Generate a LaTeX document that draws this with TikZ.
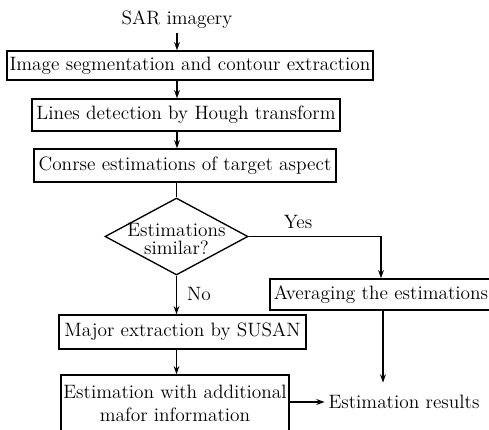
\documentclass[tikz,border=0pt]{standalone}
\usetikzlibrary{shapes.geometric,arrows.meta}
\begin{document}
\begin{tikzpicture}[x=0.6pt,y=-0.6pt,
  box/.style={draw,line width=0.8pt,inner sep=0pt,align=center,font=\fontsize{11.6}{13.4}\selectfont},
  txt/.style={inner sep=0pt,align=center,font=\fontsize{11.6}{13.4}\selectfont},
  dec/.style={draw,diamond,line width=0.8pt,inner sep=0pt},
  conn/.style={line width=0.8pt},
  arr/.style={line width=0.8pt,-{Stealth[length=5pt,width=3.5pt]}}]
\useasboundingbox (0,0) rectangle (489,430);
\clip (0,0) rectangle (489,430);
\fill[white] (0,0) rectangle (489,430);
\node[txt,minimum height=26*0.6pt] (sar) at (177,20) {SAR imagery};
\node[box,minimum width=366*0.6pt,minimum height=29*0.6pt] (b1) at (190,65.5) {Image segmentation and contour extraction};
\node[box,minimum width=308*0.6pt,minimum height=32*0.6pt] (b2) at (186,115) {Lines detection by Hough transform};
\node[box,minimum width=302*0.6pt,minimum height=33*0.6pt] (b3) at (185,165.5) {Conrse estimations of target aspect};
\node[dec,minimum width=143*0.6pt,minimum height=77*0.6pt] (d) at (176.5,236.5) {};
\node[txt,font=\fontsize{11.6}{11}\selectfont] (dt) at (176.5,239) {Estimations\\similar?};
\node[box,minimum width=222*0.6pt,minimum height=31*0.6pt] (avg) at (381,294.5) {Averaging the estimations};
\node[box,minimum width=247*0.6pt,minimum height=34*0.6pt] (maj) at (182.5,332) {Major extraction by SUSAN};
\node[box,minimum width=228*0.6pt,minimum height=57*0.6pt] (est) at (175,403.5) {Estimation with additional\\mafor information};
\node[txt,minimum width=158*0.6pt,minimum height=38*0.6pt] (res) at (404,402) {Estimation results};
\node[txt] (yes) at (298,222) {Yes};
\node[txt] (no) at (199,294) {No};
\draw[arr] (sar.south) -- (sar.south |- b1.north);
\draw[arr] (b1.south -| sar) -- (b2.north -| sar);
\draw[arr] (b2.south -| sar) -- (b3.north -| sar);
\draw[conn] (b3.south -| d) -- (d.north);
\draw[arr] (d.east) -| (avg.north);
\draw[arr] (d.south) -- (maj.north -| d);
\draw[arr] (maj.south -| d) -- (est.north -| d);
\draw[arr] (avg.south -| 383,0) -- (res.north -| 383,0);
\draw[arr] (est.east |- res) -- (res.west);
\end{tikzpicture}
\end{document}
